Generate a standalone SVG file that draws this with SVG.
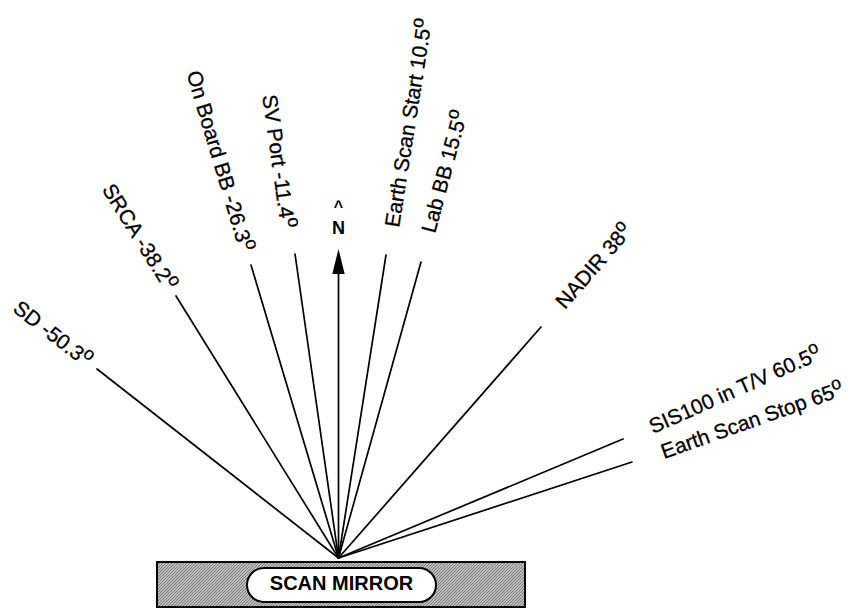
<svg xmlns="http://www.w3.org/2000/svg" width="852" height="609" viewBox="0 0 852 609">
<style>
.lbl{font-family:"Liberation Sans",Arial,sans-serif;font-size:21px;fill:#000;stroke:#000;stroke-width:0.3}
.end{text-anchor:end}
.sup{font-size:18px}
.ray{stroke:#000;stroke-width:1.7;fill:none;stroke-linecap:round}
.bold{font-family:"Liberation Sans",Arial,sans-serif;font-weight:bold;fill:#000}
</style>
<defs>
<pattern id="hatch" width="3" height="3" patternUnits="userSpaceOnUse">
<rect width="3" height="3" fill="#bdbdbd"/>
<path d="M0,3 L3,0 M-1,1 L1,-1 M2,4 L4,2" stroke="#6a6a6a" stroke-width="0.8"/>
</pattern>
</defs>
<rect width="852" height="609" fill="#fff"/>

<g id="scan-mirror">
<rect x="157" y="562" width="368" height="45" fill="url(#hatch)" stroke="#000" stroke-width="2"/>
<rect x="247" y="568" width="189" height="34" rx="17" ry="17" fill="#fff" stroke="#000" stroke-width="2"/>
<text class="bold" x="341.5" y="590" font-size="20" text-anchor="middle">SCAN MIRROR</text>
</g>

<g id="connectors">
<line class="ray" x1="338.5" y1="558" x2="97" y2="369"/>
<line class="ray" x1="338.5" y1="558" x2="176" y2="296"/>
<line class="ray" x1="338.5" y1="558" x2="251" y2="265"/>
<line class="ray" x1="338.5" y1="558" x2="295" y2="254"/>
<line class="ray" x1="338.5" y1="558" x2="338.5" y2="270"/>
<line class="ray" x1="338.5" y1="558" x2="386" y2="255"/>
<line class="ray" x1="338.5" y1="558" x2="421" y2="262"/>
<line class="ray" x1="338.5" y1="558" x2="541" y2="327"/>
<line class="ray" x1="338.5" y1="558" x2="623" y2="439"/>
<line class="ray" x1="338.5" y1="558" x2="632" y2="462"/>
<polygon points="338.5,249 332.3,274 344.7,274" fill="#000"/>
</g>

<g id="north">
<text class="bold" x="338.5" y="212" font-size="16" text-anchor="middle">^</text>
<text class="bold" x="338.5" y="234" font-size="18" text-anchor="middle">N</text>
</g>

<g id="label-sd"><text class="lbl end" transform="translate(85,368) rotate(38)">SD -50.3<tspan class="sup" dy="-8">o</tspan></text></g>
<g id="label-srca"><text class="lbl end" transform="translate(165.5,292) rotate(58)">SRCA -38.2<tspan class="sup" dy="-8">o</tspan></text></g>
<g id="label-onboard"><text class="lbl end" transform="translate(240,253) rotate(73.4)">On Board BB -26.3<tspan class="sup" dy="-8">o</tspan></text></g>
<g id="label-svport"><text class="lbl end" transform="translate(281,229) rotate(82)">SV Port -11.4<tspan class="sup" dy="-8">o</tspan></text></g>
<g id="label-esstart"><text class="lbl" transform="translate(399,228) rotate(-81)">Earth Scan Start 10.5<tspan class="sup" dy="-8">o</tspan></text></g>
<g id="label-labbb"><text class="lbl" transform="translate(435,234) rotate(-75)">Lab BB 15.5<tspan class="sup" dy="-8">o</tspan></text></g>
<g id="label-nadir"><text class="lbl" transform="translate(565,310) rotate(-49)">NADIR 38<tspan class="sup" dy="-8">o</tspan></text></g>
<g id="label-sis100"><text class="lbl" transform="translate(653,434) rotate(-24)">SIS100 in T/V 60.5<tspan class="sup" dy="-8">o</tspan></text></g>
<g id="label-esstop"><text class="lbl" transform="translate(664,459) rotate(-19.5)">Earth Scan Stop 65<tspan class="sup" dy="-8">o</tspan></text></g>
</svg>
